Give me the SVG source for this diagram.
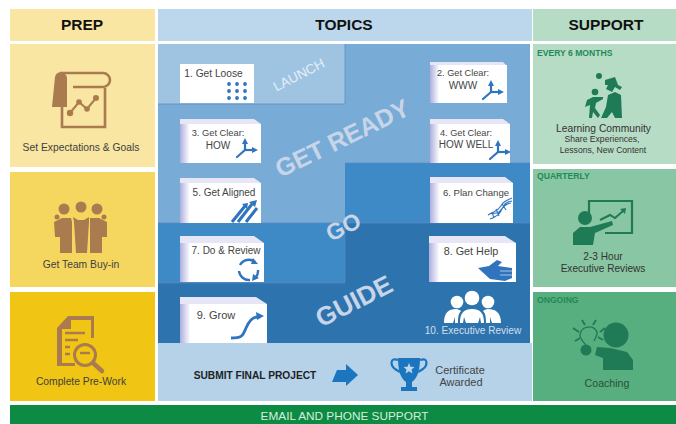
<svg xmlns="http://www.w3.org/2000/svg" width="676" height="424" viewBox="0 0 676 424">
<defs>
<linearGradient id="paper" x1="0" x2="1" y1="0" y2="0"><stop offset="0" stop-color="#aeaede"/><stop offset="0.12" stop-color="#ffffff"/></linearGradient>
<marker id="ah" markerWidth="6" markerHeight="6" refX="2" refY="3" orient="auto" markerUnits="userSpaceOnUse"><path d="M0 0L6 3L0 6Z" fill="#2f74bd"/></marker>
<g id="axes" fill="none" stroke="#2f74bd" stroke-width="2.2"><path d="M0 0V-8" marker-end="url(#ah)"/><path d="M0 0H9" marker-end="url(#ah)"/><path d="M0 0L-8 7" stroke-linecap="round"/></g>
</defs>
<style>
text{font-family:"Liberation Sans",Arial,sans-serif;fill:#3a3a3a;text-anchor:middle}
.h{font-size:15.5px;font-weight:700;fill:#111}
.t{font-size:10.3px;fill:#3f3f3f}
.c{font-size:10px;fill:#444}
.tag{font-size:8.6px;font-weight:700;fill:#1f8a58;text-anchor:start}
.w{fill:#c8d5e8;font-weight:700}
.pr{fill:#a97b4f}
.sg{fill:#1f7a56}
.paper{fill:#e6e6f6}
.sheet{fill:url(#paper)}
</style>
<rect width="676" height="424" fill="#fff"/>

<g id="prep">
<rect x="10" y="9" width="145" height="32" fill="#f8e6a2"/><text class="h" x="82" y="30">PREP</text>
</g>
<g id="prep-goals">
<rect x="10" y="44" width="145" height="123" fill="#f8e6a2"/>
<path class="pr" d="M52 107L55 77Q56 72 62 72Q68 73 67 84V107Z"/>
<path d="M60 73H103a7 7 0 0 1 0 14H73" fill="none" stroke="#a97b4f" stroke-width="2.6"/>
<path d="M62 105V127H105V88" fill="none" stroke="#a97b4f" stroke-width="2.6"/>
<path d="M70 113l9-11 8 7 9-11" fill="none" stroke="#a97b4f" stroke-width="2"/>
<g class="pr"><circle cx="70" cy="113" r="3.2"/><circle cx="79" cy="102" r="2.8"/><circle cx="87" cy="109" r="2.8"/><circle cx="96" cy="98" r="3"/></g>
<text class="t" x="81" y="151">Set Expectations &amp; Goals</text>
</g>
<g id="prep-team">
<rect x="10" y="172" width="145" height="115" fill="#f5d760"/>
<g class="pr"><circle cx="64" cy="209" r="5.500"/><circle cx="81" cy="207" r="5.500"/><circle cx="97" cy="209" r="5.500"/><circle cx="57" cy="217" r="2.500"/><circle cx="104" cy="217" r="2.500"/>
<path d="M54 222l8-4 9 0 1 4v31H60v-16h-5zM73 217l5 3h6l5-3 0 5-2 31H76l-2-31zM90 222v-4l9 0 8 4v15h-5v16H90z"/></g>
<text class="t" x="81" y="268">Get Team Buy-in</text>
</g>
<g id="prep-work">
<rect x="10" y="292" width="145" height="109" fill="#f0c514"/>
<path class="pr" d="M68 316h26v22h-3v-18H71v9h-9v34h13v3H57v-38z"/>
<path d="M65 333h20M65 340h13M65 347h5M65 354h5" stroke="#a97b4f" stroke-width="2.600" fill="none"/>
<circle cx="85" cy="355" r="10.500" fill="none" stroke="#a97b4f" stroke-width="3"/>
<path d="M80 353h10" stroke="#a97b4f" stroke-width="2.400"/>
<path d="M93 363l9 8" stroke="#a97b4f" stroke-width="4.500" stroke-linecap="round"/>
<text class="t" x="81" y="385">Complete Pre-Work</text>
</g>

<g id="topics-panels">
<rect x="158" y="9" width="374" height="32" fill="#bcd6ec"/><text class="h" x="344" y="30">TOPICS</text>
<rect x="158" y="44" width="372" height="299" fill="#78acd6"/>
<path d="M158 44H345V104H158Z" fill="#9fc4e2"/>
<path d="M345 163H530V223H345V163ZM158 223H345V283H158Z" fill="#3e8ac6"/>
<path d="M345 223H530V343H158V283H345Z" fill="#2d74ae"/>
<path d="M158 104H345V44M345 163H530M158 223H530M158 283H345V223" fill="none" stroke="#5c84bd" stroke-width="0.700"/>
<rect x="158" y="343" width="374" height="58" fill="#b5d2e9"/>
<text transform="translate(301 79) rotate(-27)" style="font-size:13.500px;fill:#e4eef7">LAUNCH</text>
<text class="w" transform="translate(346 146) rotate(-26)" style="font-size:25px">GET READY</text>
<text class="w" transform="translate(347 234) rotate(-27)" style="font-size:23px">GO</text>
<text class="w" transform="translate(358 309) rotate(-27)" style="font-size:26px">GUIDE</text>
</g>

<g id="card1"><rect x="180" y="64" width="74" height="39" fill="#fff"/><text class="c" x="213.500" y="77" style="font-size:10.200px">1. Get Loose</text>
<g fill="#2f74bd"><circle cx="229" cy="84" r="1.900"/><circle cx="237" cy="84" r="1.900"/><circle cx="245" cy="84" r="1.900"/><circle cx="229" cy="91" r="1.900"/><circle cx="237" cy="91" r="1.900"/><circle cx="245" cy="91" r="1.900"/><circle cx="229" cy="98" r="1.900"/><circle cx="237" cy="98" r="1.900"/><circle cx="245" cy="98" r="1.900"/></g></g>
<g id="card2"><path class="paper" d="M430 62H503L507 66V103H430Z"/><rect class="sheet" x="430" y="65" width="77" height="38"/><text class="c" x="463" y="76" style="font-size:9.200px">2. Get Clear:</text><text class="c" x="463" y="89">WWW</text><use href="#axes" x="491" y="92"/></g>
<g id="card3"><path class="paper" d="M180 119H254L261 124V163H180Z"/><rect class="sheet" x="180" y="124" width="81" height="39"/><text class="c" x="218" y="136" style="font-size:9.300px">3. Get Clear:</text><text class="c" x="218" y="149">HOW</text><use href="#axes" x="245" y="150"/></g>
<g id="card4"><path class="paper" d="M430 119H503L510 124V163H430Z"/><rect class="sheet" x="430" y="124" width="80" height="39"/><text class="c" x="466" y="136" style="font-size:9.200px">4. Get Clear:</text><text class="c" x="466" y="148">HOW WELL</text><use href="#axes" x="498" y="152"/></g>
<g id="card5"><path class="paper" d="M180 178H254L261 183V223H180Z"/><rect class="sheet" x="180" y="183" width="81" height="40"/><text class="c" x="224" y="196">5. Get Aligned</text>
<path d="M232 222l13-16M238 222l14-18M246 222l11-14" fill="none" stroke="#2f74bd" stroke-width="3"/><path d="M242 204l6-1-1 6zM249 202l8-2-2 7z" fill="#2f74bd"/></g>
<g id="card6"><path class="paper" d="M430 177H505L513 183V223H430Z"/><rect class="sheet" x="430" y="183" width="83" height="40"/><text class="c" x="476" y="196" style="font-size:9.600px">6. Plan Change</text>
<path d="M488 215c6-4 9-3 12-8s5-6 12-9M490 219c6-2 10-5 12-10s4-7 10-8M511 203c-8 1-9 7-12 9s-7 1-10 2M502 204l4 6M496 209l3 7M492 212l2 6" fill="none" stroke="#2f74bd" stroke-width="1.100"/></g>
<g id="card7"><path class="paper" d="M180 236H254L264 243V282H180Z"/><rect class="sheet" x="180" y="243" width="84" height="39"/><text class="c" x="226" y="254">7. Do &amp; Review</text>
<path d="M240 265a10 10 0 0 1 15-3M258 270a10 10 0 0 1-2 7M250 280a10 10 0 0 1-11-9" fill="none" stroke="#2f74bd" stroke-width="2.400"/><path d="M253 258l5 6-7 0zM259 278l-7 3 1-7z" fill="#2f74bd"/></g>
<g id="card8"><path class="paper" d="M429 236H505L516 243V282H429Z"/><rect class="sheet" x="429" y="243" width="87" height="39"/><text class="c" x="471" y="255" style="font-size:10.800px">8. Get Help</text>
<path fill="#2f74bd" d="M478 268L489 266L497 260L502 262L498 266L512 268V278L505 281L490 279Z"/><path d="M500 271h12M500 275h12" stroke="#fff" stroke-width="0.600"/></g>
<g id="card9"><path class="paper" d="M180 297H256L267 304V343H180Z"/><rect class="sheet" x="180" y="304" width="87" height="39"/><text class="c" x="216" y="319" style="font-size:11px">9. Grow</text>
<path d="M231 338c12 0 12-3 15-10s6-11 11-11" fill="none" stroke="#2f74bd" stroke-width="2.800"/><path d="M256 312l8 4-7 4z" fill="#2f74bd"/></g>
<g id="card10" fill="#fff"><circle cx="457" cy="302" r="6.300"/><circle cx="472" cy="298" r="7.300"/><circle cx="488" cy="302" r="6.300"/>
<path d="M444 323c0-11 5-14 12-14 2 0 4 1 5 2-3 3-3 8-3 12h-3v-6l-2 6zM460 323c0-9 3-14 12-14s12 5 12 14h-3l-1-6-2 6h-12l-2-6-1 6zM486 323c0-4 0-9-3-12 1-1 3-2 5-2 7 0 13 3 13 14h-9l-2-6v6z"/>
<text x="473" y="334" style="font-size:10.100px;fill:#d2deee">10. Executive Review</text></g>

<g id="submit">
<text x="255" y="379" style="font-size:10.200px;font-weight:700;fill:#222">SUBMIT FINAL PROJECT</text>
<path d="M337 370h9v-6l12 11-12 11v-4h-14z" fill="#1c76bf"/>
</g>
<g id="certificate">
<path d="M398 358h22c0 11-2 20-8 24v5h5v4h-16v-4h5v-5c-6-4-8-13-8-24z" fill="#1c76bf"/>
<path d="M398 360c-8-3-8 5-3 9l5 3M420 360c8-3 8 5 3 9l-5 3" fill="none" stroke="#1c76bf" stroke-width="2.200"/>
<path d="M409 363l1.500 3.700 4 .3-3 2.500 1 3.900-3.500-2.100-3.500 2.100 1-3.900-3-2.500 4-.3z" fill="#bcd6ec"/>
<text x="460" y="374" style="font-size:11px;fill:#444">Certificate</text><text x="461" y="386" style="font-size:11px;fill:#444">Awarded</text>
</g>

<g id="support">
<rect x="533" y="9" width="143" height="32" fill="#b7dcc6"/><text class="h" x="606" y="30">SUPPORT</text>
</g>
<g id="support-community">
<rect x="533" y="44" width="143" height="120" fill="#b7dcc6"/>
<text class="tag" x="537" y="56">EVERY 6 MONTHS</text>
<g class="sg"><circle cx="599" cy="76" r="3"/><path d="M605 80L615 77L618 85L622 87L620 90L615 87L612 92L606 89L608 85L605 85Z"/><path d="M608 95L615 92L621 95L622 118L615 118L612 112L607 118L601 118L606 107Z"/><circle cx="595" cy="92" r="3.300"/><path d="M587 100L593 97L603 97L603 99L596 103L595 108L600 115L598 118L593 112L592 118L589 118L590 105L585 107Z"/></g>
<text x="603.500" y="132" style="font-size:10.300px;fill:#333">Learning Community</text>
<text x="602" y="142" style="font-size:8.600px;fill:#333">Share Experiences,</text>
<text x="603" y="153" style="font-size:8.600px;fill:#333">Lessons, New Content</text>
</g>
<g id="support-reviews">
<rect x="533" y="169" width="143" height="118" fill="#89c6a3"/>
<text class="tag" x="537" y="179">QUARTERLY</text>
<g class="sg"><path d="M589 213V201H632V233H605" fill="none" stroke="#1f7a56" stroke-width="2.200"/><circle cx="585" cy="218" r="7"/><path d="M573 245L573 233L580 227L590 227L612 221L613 225L595 233L593 245Z"/></g>
<path d="M600 220l10-5 5 3 8-7" fill="none" stroke="#1f7a56" stroke-width="2"/><path d="M620 209l6-1-1 6z" fill="#1f7a56"/>
<text x="603" y="260" style="font-size:10.100px;fill:#333">2-3 Hour</text><text x="603" y="272" style="font-size:10.100px;fill:#333">Executive Reviews</text>
</g>
<g id="support-coaching">
<rect x="533" y="292" width="143" height="109" fill="#57ae7e"/>
<text class="tag" x="537" y="303">ONGOING</text>
<g class="sg"><circle cx="616" cy="335" r="12.500"/><path d="M597 347L610 348L627 352L633 360V370H603V358L595 355Z"/><circle cx="586" cy="350" r="5.500"/></g>
<path d="M586 345c-3-3-6-6-6-10a9 9 0 0 1 17-3c1 3-2 6-3 9" fill="none" stroke="#1f7a56" stroke-width="1.300"/>
<path d="M582 320l3 5M596 320l-3 5M573 328l6 4M605 328l-5 4M575 341l5-3M603 340l-5-3" stroke="#1f7a56" stroke-width="1.800"/>
<text x="607" y="387" style="font-size:10.600px;fill:#2c4f3d">Coaching</text>
</g>

<g id="footer">
<rect x="10" y="405" width="666" height="19" fill="#0d8a43"/>
<text x="344.500" y="420" style="font-size:11.800px;fill:#d8eedd">EMAIL AND PHONE SUPPORT</text>
</g>
<g id="connectors"></g>
</svg>
